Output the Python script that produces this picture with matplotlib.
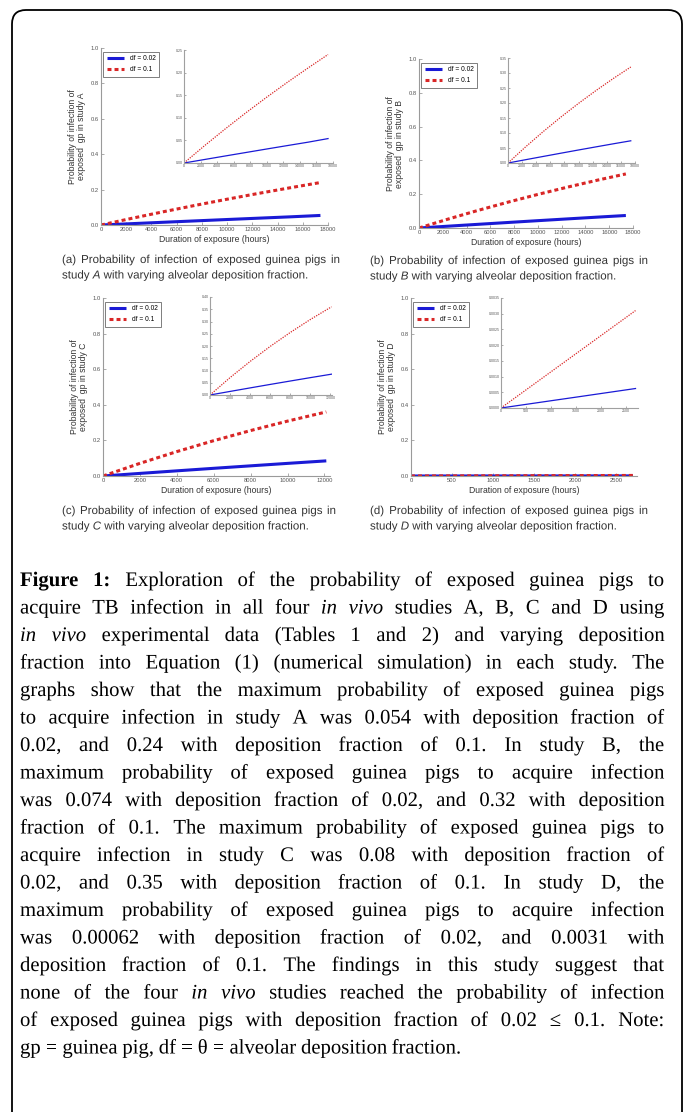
import matplotlib
matplotlib.use('Agg')
import matplotlib.pyplot as plt
from matplotlib.patches import FancyBboxPatch, PathPatch
from matplotlib.transforms import IdentityTransform, Affine2D
from matplotlib.textpath import TextPath
from matplotlib.font_manager import FontProperties

W, H, DPI = 683, 1112, 100

# ---------------- data ----------------
series_labels = ['df = 0.02', 'df = 0.1']
study_names = ['A', 'B', 'C', 'D']

hours_A = [0, 2500, 5000, 7500, 10000, 12500, 15000, 17400]
p_A_df002 = [0, 0.0078, 0.0156, 0.0233, 0.0310, 0.0386, 0.0461, 0.054]
p_A_df01 = [0, 0.0386, 0.0757, 0.1114, 0.1457, 0.1787, 0.2104, 0.24]

hours_B = [0, 2500, 5000, 7500, 10000, 12500, 15000, 17400]
p_B_df002 = [0, 0.0110, 0.0219, 0.0327, 0.0434, 0.0539, 0.0643, 0.074]
p_B_df01 = [0, 0.0539, 0.1049, 0.1532, 0.1988, 0.2420, 0.2829, 0.32]

hours_C = [0, 2000, 4000, 6000, 8000, 10000, 12100]
p_C_df002 = [0, 0.0146, 0.0290, 0.0432, 0.0571, 0.0709, 0.085]
p_C_df01 = [0, 0.0711, 0.1371, 0.1985, 0.2554, 0.3084, 0.36]

hours_D = [0, 500, 1000, 1500, 2000, 2500, 2700]
p_D_df002 = [0, 0.000115, 0.00023, 0.000344, 0.000459, 0.000574, 0.00062]
p_D_df01 = [0, 0.000574, 0.001148, 0.001722, 0.002296, 0.00287, 0.0031]

main_yticks = [0.0, 0.2, 0.4, 0.6, 0.8, 1.0]
xticks_AB = [0, 2000, 4000, 6000, 8000, 10000, 12000, 14000, 16000, 18000]
xticks_C = [0, 2000, 4000, 6000, 8000, 10000, 12000]
xticks_D = [0, 500, 1000, 1500, 2000, 2500]
inset_yticks_A = [0.00, 0.05, 0.10, 0.15, 0.20, 0.25]
inset_yticks_B = [0.00, 0.05, 0.10, 0.15, 0.20, 0.25, 0.30, 0.35]
inset_yticks_C = [0.00, 0.05, 0.10, 0.15, 0.20, 0.25, 0.30, 0.35, 0.40]
inset_yticks_D = [0.0000, 0.0005, 0.0010, 0.0015, 0.0020, 0.0025, 0.0030, 0.0035]

sub_captions = [
    ["(a) Probability of infection of exposed guinea pigs in",
     "study _A with varying alveolar deposition fraction."],
    ["(b) Probability of infection of exposed guinea pigs in",
     "study _B with varying alveolar deposition fraction."],
    ["(c) Probability of infection of exposed guinea pigs in",
     "study _C with varying alveolar deposition fraction."],
    ["(d) Probability of infection of exposed guinea pigs in",
     "study _D with varying alveolar deposition fraction."],
]

caption_lines = [
    "^Figure ^1: Exploration of the probability of exposed guinea pigs to",
    "acquire TB infection in all four _in _vivo studies A, B, C and D using",
    "_in _vivo experimental data (Tables 1 and 2) and varying deposition",
    "fraction into Equation (1) (numerical simulation) in each study. The",
    "graphs show that the maximum probability of exposed guinea pigs",
    "to acquire infection in study A was 0.054 with deposition fraction of",
    "0.02, and 0.24 with deposition fraction of 0.1. In study B, the",
    "maximum probability of exposed guinea pigs to acquire infection",
    "was 0.074 with deposition fraction of 0.02, and 0.32 with deposition",
    "fraction of 0.1. The maximum probability of exposed guinea pigs to",
    "acquire infection in study C was 0.08 with deposition fraction of",
    "0.02, and 0.35 with deposition fraction of 0.1. In study D, the",
    "maximum probability of exposed guinea pigs to acquire infection",
    "was 0.00062 with deposition fraction of 0.02, and 0.0031 with",
    "deposition fraction of 0.1. The findings in this study suggest that",
    "none of the four _in _vivo studies reached the probability of infection",
    "of exposed guinea pigs with deposition fraction of 0.02 \u2264 0.1. Note:",
    "gp = guinea pig, df = \u03b8 = alveolar deposition fraction.",
]

# ---------------- styling ----------------
BLUE = '#1a1ad6'
RED = '#d92626'
SANS = ['Liberation Sans', 'DejaVu Sans']
SERIF = ['Liberation Serif', 'DejaVu Serif']
plt.rcParams['font.family'] = SANS

fig = plt.figure(figsize=(W / DPI, H / DPI), dpi=DPI)
fig.patch.set_facecolor('white')


def px_rect(l, t, r, b):
    return [l / W, 1 - b / H, (r - l) / W, (b - t) / H]


def style_axes(ax, labelsize, spine_col='#9a9a9a'):
    for s in ['top', 'right']:
        ax.spines[s].set_visible(False)
    for s in ['left', 'bottom']:
        ax.spines[s].set_color(spine_col)
        ax.spines[s].set_linewidth(0.8)
    ax.tick_params(direction='in', length=2, width=0.5, colors='#8a8a8a',
                   labelcolor='#555555', labelsize=labelsize, pad=1.5)


def panel(main_px, inset_px, hours, p002, p01, study, xlim, xticks,
          iylim, iyticks, ind, ixlim, ixticks):
    ax = fig.add_axes(px_rect(*main_px))
    ax.plot(hours, p002, color=BLUE, lw=2.2, label=series_labels[0],
            solid_capstyle='butt')
    ax.plot(hours, p01, color=RED, lw=2.2, ls=(0, (1.3, 1.0)),
            label=series_labels[1])
    ax.set_xlim(*xlim)
    ax.set_ylim(0, 1.0)
    ax.set_xticks(xticks)
    ax.set_xticklabels([str(x) for x in xticks])
    ax.set_yticks(main_yticks)
    ax.set_yticklabels([f"{v:.1f}" for v in main_yticks])
    style_axes(ax, 4.2)
    ax.set_xlabel('Duration of exposure (hours)', fontsize=6.2, color='#333333',
                  labelpad=2)
    ax.set_ylabel('Probability of infection of\nexposed  gp in study ' + study,
                  fontsize=6.2, color='#333333', labelpad=3, linespacing=1.1)
    leg = ax.legend(loc='upper left', bbox_to_anchor=(0.005, 0.985),
                    fontsize=4.8, frameon=True, fancybox=False,
                    handlelength=2.6, borderpad=0.5, labelspacing=0.6,
                    handletextpad=0.9, borderaxespad=0.2)
    leg.get_frame().set_edgecolor('#444444')
    leg.get_frame().set_linewidth(0.6)

    ia = fig.add_axes(px_rect(*inset_px))
    ia.plot(hours, p002, color=BLUE, lw=0.9)
    ia.plot(hours, p01, color=RED, lw=0.9, ls=(0, (1, 1)))
    ia.set_xlim(*ixlim)
    ia.set_ylim(*iylim)
    ia.set_xticks(ixticks)
    ia.set_xticklabels([str(x) for x in ixticks])
    ia.set_yticks(iyticks)
    ia.set_yticklabels([f"{v:.{ind}f}" for v in iyticks])
    style_axes(ia, 2.6, spine_col='#a0a0a0')
    ia.tick_params(length=1.2, pad=1)
    ia.patch.set_alpha(0.0)
    return ax, ia


panel((101, 48, 328, 225), (184, 50, 333, 163), hours_A, p_A_df002, p_A_df01,
      study_names[0], (0, 18000), xticks_AB, (0, 0.25), inset_yticks_A, 2,
      (0, 18000), xticks_AB)
panel((419, 59, 633, 228), (508, 58, 635, 163), hours_B, p_B_df002, p_B_df01,
      study_names[1], (0, 18000), xticks_AB, (0, 0.35), inset_yticks_B, 2,
      (0, 18000), xticks_AB)
panel((103, 298, 330, 476), (210, 297, 332, 395), hours_C, p_C_df002, p_C_df01,
      study_names[2], (0, 12300), xticks_C, (0, 0.40), inset_yticks_C, 2,
      (0, 12150), xticks_C)
panel((411, 298, 637, 476), (501, 298, 638, 408), hours_D, p_D_df002, p_D_df01,
      study_names[3], (0, 2750), xticks_D, (0, 0.0035), inset_yticks_D, 4,
      (0, 2750), xticks_D)

# ---------------- justified text (drawn as glyph paths, exact baselines) ----------------
renderer = fig.canvas.get_renderer()


def parse(word):
    if word.startswith('_'):
        return word[1:], {'style': 'italic'}
    if word.startswith('^'):
        return word[1:], {'weight': 'bold'}
    return word, {}


def fprops(family, extra):
    return FontProperties(family=family, style=extra.get('style', 'normal'),
                          weight=extra.get('weight', 'normal'))


def measure(s, family, size_pt, extra):
    t = fig.text(0, 0, s, fontproperties=fprops(family, extra), fontsize=size_pt)
    w = t.get_window_extent(renderer).width
    t.remove()
    return w


def place_word(s, family, size_pt, extra, x, yb, color):
    fp = fprops(family, extra)
    tp = TextPath((0, 0), s, size=size_pt * DPI / 72.0, prop=fp)
    path = Affine2D().translate(x, H - yb).transform_path(tp)
    patch = PathPatch(path, transform=IdentityTransform(), facecolor=color,
                      edgecolor='none', lw=0)
    fig.patches.append(patch)
    patch.set_figure(fig)


def draw_line(line, x0, x1, yb, justify, family, size_pt, color):
    words = [parse(w) for w in line.split()]
    widths = [measure(w, family, size_pt, kw) for w, kw in words]
    space = measure('n n', family, size_pt, {}) - measure('nn', family, size_pt, {})
    if justify and len(words) > 1:
        gap = (x1 - x0 - sum(widths)) / (len(words) - 1)
    else:
        gap = space
    x = x0
    for (w, kw), wd in zip(words, widths):
        place_word(w, family, size_pt, kw, x, yb, color)
        x += wd + gap


sub_pos = [(62, 340, 263), (370, 648, 264), (62, 336, 514), (370, 648, 514)]
for lines, (x0, x1, yb) in zip(sub_captions, sub_pos):
    draw_line(lines[0], x0, x1, yb, True, SANS, 8.3, '#333333')
    draw_line(lines[1], x0, x1, yb + 15.5, False, SANS, 8.3, '#333333')

for i, line in enumerate(caption_lines):
    yb = 586 + i * 27.5
    draw_line(line, 20, 664, yb, i < len(caption_lines) - 1, SERIF, 14.9, 'black')

# ---------------- rounded frame ----------------
frame = FancyBboxPatch((12, -120), 670, H - 10 + 120,
                       boxstyle='round,pad=0,rounding_size=14',
                       transform=IdentityTransform(), fill=False,
                       edgecolor='black', linewidth=1.3)
fig.patches.append(frame)
frame.set_figure(fig)

fig.savefig('out.png', dpi=DPI, facecolor='white')
